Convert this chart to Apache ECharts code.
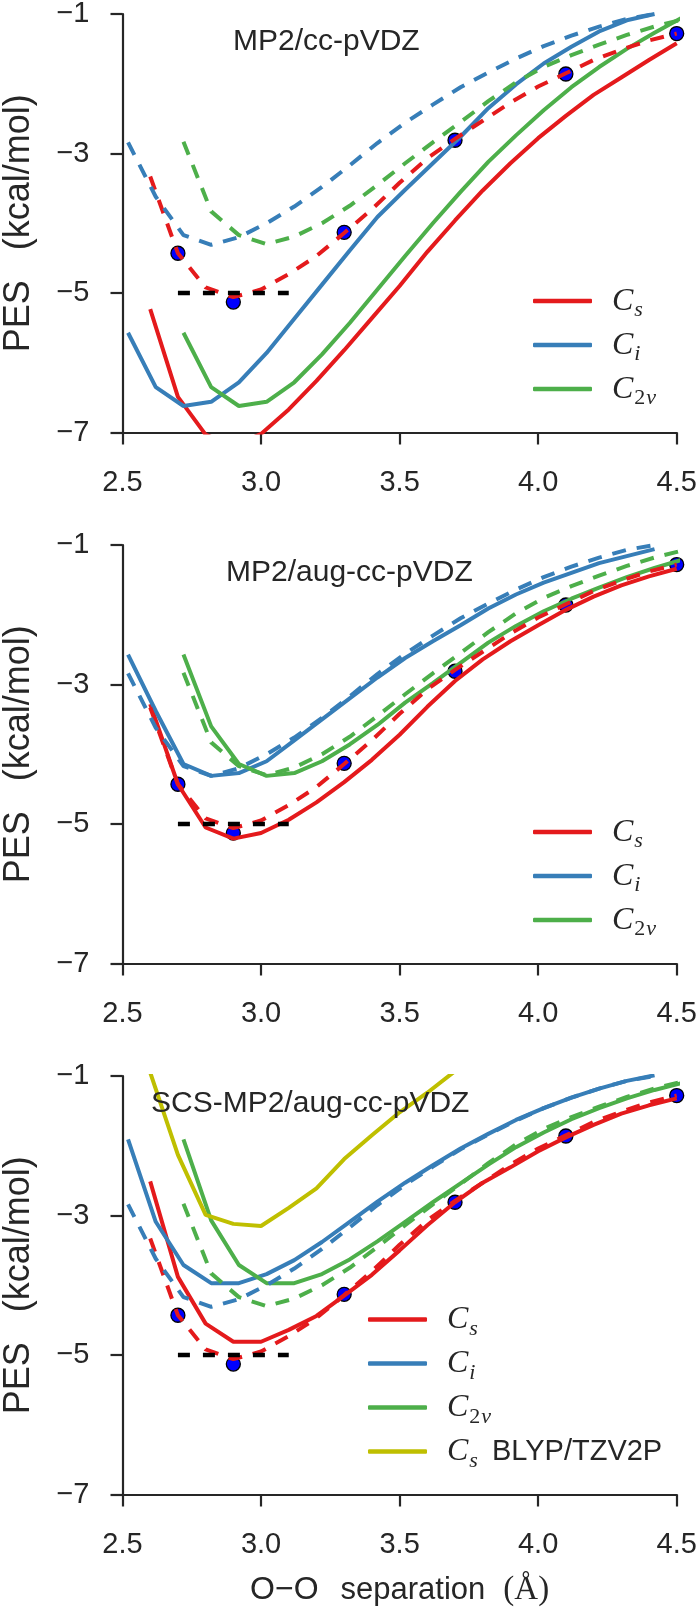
<!DOCTYPE html>
<html>
<head>
<meta charset="utf-8">
<script src="https://cdn.jsdelivr.net/npm/echarts@6/dist/echarts.min.js"></script>
<style>
html,body{margin:0;padding:0;background:#fff;}
#c{width:700px;height:1611px;}
</style>
</head>
<body>
<div id="c"></div>
<script>
// ---- data (O-O separation in Angstrom, PES in kcal/mol) ----
const panelTitles = ['MP2/cc-pVDZ', 'MP2/aug-cc-pVDZ', 'SCS-MP2/aug-cc-pVDZ'];
const xTicks = [2.5, 3.0, 3.5, 4.0, 4.5];
const yTicks = [-7, -5, -3, -1];

const xCs  = [2.6,2.7,2.8,2.9,3.0,3.1,3.2,3.3,3.4,3.5,3.6,3.7,3.8,3.9,4.0,4.1,4.2,4.3,4.4,4.5];
const xCi  = [2.52,2.62,2.72,2.82,2.92,3.02,3.12,3.22,3.32,3.42,3.52,3.62,3.72,3.82,3.92,4.02,4.12,4.22,4.32,4.42];
const xC2v = [2.72,2.82,2.92,3.02,3.12,3.22,3.32,3.42,3.52,3.62,3.72,3.82,3.92,4.02,4.12,4.22,4.32,4.42,4.52];
const xBlyp = [2.6,2.7,2.8,2.9,3.0,3.1,3.2,3.3,3.4,3.5,3.6,3.7,3.8];

// reference curves (dashed), same in every panel
const refCs  = [-3.33,-4.43,-4.92,-5.06,-4.95,-4.73,-4.47,-4.14,-3.80,-3.42,-3.07,-2.79,-2.53,-2.27,-2.04,-1.85,-1.66,-1.51,-1.38,-1.28];
const refCi  = [-2.84,-3.62,-4.17,-4.31,-4.20,-4.00,-3.76,-3.48,-3.17,-2.85,-2.56,-2.30,-2.05,-1.84,-1.64,-1.46,-1.31,-1.18,-1.07,-1.00];
const refC2v = [-2.83,-3.83,-4.17,-4.30,-4.19,-4.00,-3.75,-3.45,-3.14,-2.84,-2.55,-2.25,-1.98,-1.76,-1.59,-1.44,-1.30,-1.18,-1.08];

// reference points and minimum marker
const dotX = [2.7, 2.9, 3.3, 3.7, 4.1, 4.5];
const dotY = [-4.43, -5.13, -4.13, -2.81, -1.86, -1.28];
const minX = [2.7, 3.1];
const minY = [-5, -5];

// panel 1: MP2/cc-pVDZ
const p1Cs  = [-5.23,-6.49,-7.03,-7.20,-7.02,-6.67,-6.26,-5.82,-5.36,-4.90,-4.41,-3.96,-3.53,-3.14,-2.78,-2.46,-2.16,-1.91,-1.66,-1.42];
const p1Ci  = [-5.57,-6.35,-6.62,-6.56,-6.28,-5.86,-5.37,-4.88,-4.39,-3.91,-3.52,-3.14,-2.76,-2.35,-2.01,-1.71,-1.47,-1.25,-1.09,-1.00];
const p1C2v = [-5.57,-6.35,-6.62,-6.56,-6.28,-5.88,-5.43,-4.95,-4.47,-4.00,-3.55,-3.12,-2.74,-2.38,-2.05,-1.76,-1.50,-1.27,-1.05];
// panel 2: MP2/aug-cc-pVDZ
const p2Cs  = [-3.28,-4.43,-5.05,-5.21,-5.13,-4.94,-4.69,-4.40,-4.08,-3.72,-3.32,-2.95,-2.64,-2.38,-2.15,-1.93,-1.74,-1.58,-1.45,-1.34];
const p2Ci  = [-2.57,-3.38,-4.14,-4.31,-4.27,-4.10,-3.80,-3.50,-3.20,-2.90,-2.62,-2.38,-2.15,-1.91,-1.71,-1.54,-1.40,-1.26,-1.16,-1.06];
const p2C2v = [-2.57,-3.60,-4.14,-4.31,-4.27,-4.10,-3.86,-3.58,-3.26,-2.98,-2.69,-2.40,-2.16,-1.95,-1.77,-1.61,-1.46,-1.33,-1.21];
// panel 3: SCS-MP2/aug-cc-pVDZ
const p3Cs  = [-2.51,-3.88,-4.55,-4.81,-4.81,-4.64,-4.44,-4.15,-3.85,-3.50,-3.14,-2.81,-2.53,-2.31,-2.08,-1.88,-1.70,-1.54,-1.42,-1.32];
const p3Ci  = [-1.91,-3.09,-3.71,-3.97,-3.97,-3.84,-3.64,-3.38,-3.09,-2.80,-2.53,-2.28,-2.04,-1.83,-1.63,-1.46,-1.31,-1.18,-1.07,-0.99];
const p3C2v = [-1.91,-3.07,-3.71,-3.97,-3.97,-3.84,-3.63,-3.37,-3.09,-2.81,-2.54,-2.27,-2.02,-1.81,-1.62,-1.46,-1.32,-1.20,-1.10];
const p3Blyp = [-0.95,-2.13,-2.99,-3.12,-3.15,-2.89,-2.61,-2.19,-1.85,-1.52,-1.24,-0.93,-0.70];

const panels = [
  {Cs: p1Cs, Ci: p1Ci, C2v: p1C2v},
  {Cs: p2Cs, Ci: p2Ci, C2v: p2C2v},
  {Cs: p3Cs, Ci: p3Ci, C2v: p3C2v, Blyp: p3Blyp}
];

// ---- styling ----
const RED = '#e41a1c', BLUE = '#377eb8', GREEN = '#4daf4a', OLIVE = '#bfbf00', INK = '#262626';
const gridTops = [14, 545, 1076];
const gridH = 418.5;

function zip(xs, ys) { return xs.map((x, i) => [x, ys[i]]); }

const grids = gridTops.map(t => ({left: 122.5, right: 23.3, top: t, height: gridH,
                                  containLabel: false, outerBoundsMode: 'none'}));

const xAxes = gridTops.map((t, i) => ({
  type: 'value', gridIndex: i, min: xTicks[0], max: xTicks[xTicks.length - 1], interval: 0.5,
  axisLine: {lineStyle: {color: INK, width: 2.2}},
  axisTick: {length: 12, lineStyle: {color: INK, width: 2.2}},
  axisLabel: {fontSize: 29, color: INK, fontFamily: 'Liberation Sans', margin: 36,
              hideOverlap: false, formatter: v => v.toFixed(1)},
  splitLine: {show: false},
  name: i === 2 ? '{s|O\u2212O}{g|separation}{r|(\u00c5)}' : '',
  nameLocation: 'middle', nameGap: 79,
  nameTextStyle: {rich: {
    s: {fontSize: 32, fontFamily: 'Liberation Sans', color: INK},
    g: {fontSize: 31, fontFamily: 'Liberation Sans', color: INK, padding: [0, 0, 0, 22]},
    r: {fontSize: 33, fontFamily: 'Liberation Serif', color: INK, padding: [0, 0, 0, 18]}
  }}
}));

const yAxes = gridTops.map((t, i) => ({
  type: 'value', gridIndex: i, min: yTicks[0], max: yTicks[yTicks.length - 1], interval: 2,
  axisLine: {show: true, lineStyle: {color: INK, width: 2.2}},
  axisTick: {show: true, length: 12, lineStyle: {color: INK, width: 2.2}},
  axisLabel: {fontSize: 29, color: INK, fontFamily: 'Liberation Sans', margin: 33,
              formatter: v => v < 0 ? '\u2212' + (-v) : String(v)},
  splitLine: {show: false},
  name: 'PES   (kcal/mol)', nameLocation: 'middle', nameGap: 85, nameRotate: 90,
  nameTextStyle: {fontSize: 36, color: INK, fontFamily: 'Liberation Sans'}
}));

const series = [];
panels.forEach((p, i) => {
  const base = {type: 'line', xAxisIndex: i, yAxisIndex: i, symbol: 'none', showSymbol: false,
                silent: true, animation: false, clip: true};
  series.push({type: 'scatter', name: 'points', xAxisIndex: i, yAxisIndex: i, silent: true,
               animation: false, symbolSize: 14, clip: false,
               itemStyle: {color: '#0000ff', borderColor: '#000', borderWidth: 1.3, opacity: 1},
               data: zip(dotX, dotY)});
  series.push(Object.assign({}, base, {name: 'Cs', color: RED, lineStyle: {width: 4, color: RED}, data: zip(xCs, p.Cs)}));
  series.push(Object.assign({}, base, {name: 'Ci', color: BLUE, lineStyle: {width: 4, color: BLUE}, data: zip(xCi, p.Ci)}));
  series.push(Object.assign({}, base, {name: 'C2v', color: GREEN, lineStyle: {width: 4, color: GREEN}, data: zip(xC2v, p.C2v)}));
  if (p.Blyp) {
    series.push(Object.assign({}, base, {name: 'CsBLYP', color: OLIVE, lineStyle: {width: 4, color: OLIVE}, data: zip(xBlyp, p.Blyp)}));
  }
  series.push(Object.assign({}, base, {name: 'Cs ref', color: RED, lineStyle: {width: 4, color: RED, type: [14, 11]}, data: zip(xCs, refCs)}));
  series.push(Object.assign({}, base, {name: 'Ci ref', color: BLUE, lineStyle: {width: 4, color: BLUE, type: [14, 11]}, data: zip(xCi, refCi)}));
  series.push(Object.assign({}, base, {name: 'C2v ref', color: GREEN, lineStyle: {width: 4, color: GREEN, type: [14, 11]}, data: zip(xC2v, refC2v)}));
  series.push(Object.assign({}, base, {name: 'min', color: '#000', lineStyle: {width: 4.5, color: '#000', type: [12, 13]}, data: zip(minX, minY)}));
});

const legendNames = {
  'Cs': '{c|C}{s|s}',
  'Ci': '{c|C}{s|i}',
  'C2v': '{c|C}{n|2}{s|v}',
  'CsBLYP': '{c|C}{s|s}{t|BLYP/TZV2P}'
};
const richLegend = {
  c: {fontFamily: 'Liberation Serif', fontStyle: 'italic', fontSize: 32, lineHeight: 31, verticalAlign: 'top', color: INK, padding: [0, 0, 0, 15]},
  s: {fontFamily: 'Liberation Serif', fontStyle: 'italic', fontSize: 22, lineHeight: 21, verticalAlign: 'top', color: INK, padding: [14, 0, 0, 1]},
  n: {fontFamily: 'Liberation Serif', fontSize: 22, lineHeight: 21, verticalAlign: 'top', color: INK, padding: [14, 0, 0, 1]},
  t: {fontFamily: 'Liberation Sans', fontSize: 29, lineHeight: 31, verticalAlign: 'top', color: INK, padding: [1, 0, 0, 14]}
};
function makeLegend(left, top, data) {
  return {orient: 'vertical', left: left, top: top, padding: 0, itemGap: 8, itemWidth: 59, itemHeight: 4.5,
          icon: 'roundRect', selectedMode: false, data: data,
          formatter: n => legendNames[n], textStyle: {rich: richLegend}};
}

const titleLefts = [233, 226, 151];
const option = {
  backgroundColor: '#ffffff',
  animation: false,
  title: panelTitles.map((t, i) => ({
    text: t, left: titleLefts[i], top: gridTops[i] + 13, padding: 0,
    textStyle: {fontSize: 30, fontWeight: 'normal', fontFamily: 'Liberation Sans', color: INK}
  })),
  grid: grids,
  xAxis: xAxes,
  yAxis: yAxes,
  legend: [
    makeLegend(533, gridTops[0] + 271.5, ['Cs', 'Ci', 'C2v']),
    makeLegend(533, gridTops[1] + 271.5, ['Cs', 'Ci', 'C2v']),
    makeLegend(368, gridTops[2] + 228, ['Cs', 'Ci', 'C2v', 'CsBLYP'])
  ],
  series: series
};

const chart = echarts.init(document.getElementById('c'), null, {renderer: 'canvas'});
chart.setOption(option);
</script>
</body>
</html>
